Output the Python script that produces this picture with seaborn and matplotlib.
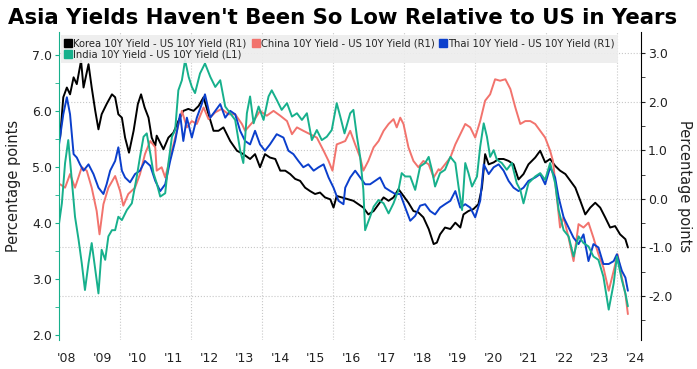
import numpy as np
import pandas as pd
import seaborn as sns
import matplotlib.pyplot as plt
from matplotlib.lines import Line2D

# Spreads (x = decimal year)
korea_t = [2008.31, 2008.40, 2008.50, 2008.59, 2008.69, 2008.78, 2008.90, 2008.97, 2009.11, 2009.20,
           2009.30, 2009.39, 2009.48, 2009.62, 2009.77, 2009.86, 2009.95, 2010.05, 2010.14, 2010.25,
           2010.38, 2010.50, 2010.59, 2010.69, 2010.80, 2010.89, 2010.99,
           2011.03, 2011.22, 2011.36, 2011.50, 2011.64, 2011.78, 2011.92, 2012.07, 2012.21, 2012.35,
           2012.49, 2012.63, 2012.77, 2012.91, 2013.10, 2013.29, 2013.47,
           2013.66, 2013.80, 2013.94, 2014.08, 2014.22, 2014.37, 2014.51, 2014.65, 2014.79, 2014.93,
           2015.07, 2015.21, 2015.35, 2015.49, 2015.63, 2015.77, 2015.92, 2016.01, 2016.10, 2016.24,
           2016.43, 2016.57, 2016.71, 2016.85, 2016.99, 2017.14, 2017.28, 2017.42, 2017.56, 2017.70,
           2017.84, 2017.98, 2018.12, 2018.26, 2018.40, 2018.54, 2018.69, 2018.83, 2018.92,
           2019.01, 2019.15, 2019.30, 2019.44, 2019.58, 2019.67, 2019.81, 2019.95, 2020.09, 2020.19,
           2020.28, 2020.38, 2020.52, 2020.66, 2020.80, 2020.94, 2021.08, 2021.22, 2021.36, 2021.50,
           2021.69, 2021.83, 2021.97, 2022.11, 2022.25, 2022.39, 2022.54, 2022.68, 2022.82, 2022.96,
           2023.10, 2023.24, 2023.38, 2023.52, 2023.66, 2023.80, 2023.94, 2024.08, 2024.23, 2024.30]
korea_v = [1.26, 2.09, 2.29, 2.15, 2.50, 2.36, 2.84, 2.29, 2.77, 2.29,
           1.81, 1.43, 1.74, 1.95, 2.15, 2.09, 1.74, 1.67, 1.26, 0.95,
           1.40, 1.95, 2.15, 1.88, 1.67, 1.26, 1.09,
           1.30, 1.02, 1.26, 1.36, 1.60, 1.81, 1.85, 1.81, 1.91, 2.09,
           1.74, 1.40, 1.40, 1.47, 1.19, 0.99, 0.92,
           0.82, 0.92, 0.65, 0.92, 0.85, 0.82, 0.58, 0.58, 0.51, 0.41,
           0.37, 0.23, 0.16, 0.10, 0.13, 0.03, -0.01, -0.18, 0.06, 0.03,
           -0.01, -0.04, -0.11, -0.18, -0.32, -0.25, -0.11, 0.03, -0.04, 0.03,
           0.20, 0.06, -0.08, -0.25, -0.28, -0.38, -0.62, -0.93, -0.90,
           -0.73, -0.59, -0.62, -0.49, -0.59, -0.32, -0.25, -0.21, -0.11, 0.23,
           0.92, 0.71, 0.75, 0.82, 0.82, 0.78, 0.71, 0.40, 0.51, 0.71,
           0.85, 0.99, 0.75, 0.82, 0.68, 0.58, 0.51, 0.37, 0.23, -0.04,
           -0.32, -0.18, -0.08, -0.18, -0.38, -0.59, -0.56, -0.73, -0.83, -1.00]

china_t = [2008.31, 2008.45, 2008.59, 2008.73, 2008.92, 2009.06, 2009.20, 2009.34, 2009.42, 2009.53,
           2009.67, 2009.86, 2010.00, 2010.09, 2010.23, 2010.42, 2010.56, 2010.70, 2010.85, 2010.99,
           2011.03, 2011.17, 2011.27, 2011.41, 2011.60, 2011.74, 2011.88, 2012.02, 2012.16, 2012.35,
           2012.49, 2012.68, 2012.86, 2013.05, 2013.24, 2013.43,
           2013.52, 2013.76, 2013.94, 2014.13, 2014.32, 2014.51, 2014.70, 2014.84, 2014.98, 2015.16,
           2015.35, 2015.54, 2015.73, 2015.87, 2015.98, 2016.10, 2016.24,
           2016.34, 2016.48, 2016.62, 2016.76, 2016.85, 2016.99, 2017.14, 2017.28, 2017.42, 2017.56,
           2017.70, 2017.79, 2017.89, 2017.98, 2018.12, 2018.26, 2018.40, 2018.54, 2018.69, 2018.83,
           2018.97,
           2019.01, 2019.15, 2019.30, 2019.44, 2019.58, 2019.72, 2019.86, 2020.00, 2020.14, 2020.28,
           2020.42, 2020.56, 2020.70, 2020.85, 2020.99, 2021.13, 2021.27, 2021.41,
           2021.55, 2021.69, 2021.83, 2021.97, 2022.11, 2022.19, 2022.28, 2022.39, 2022.49, 2022.63,
           2022.77, 2022.91, 2023.05, 2023.19, 2023.33, 2023.47, 2023.61, 2023.76, 2023.90, 2024.01,
           2024.13, 2024.23, 2024.30]
china_v = [0.30, 0.23, 0.51, 0.23, 0.65, 0.58, 0.23, -0.25, -0.73, -0.11,
           0.23, 0.47, 0.16, -0.14, 0.10, 0.23, 0.51, 0.92, 1.19, 1.06,
           0.58, 0.65, 0.44, 0.85, 1.40, 1.81, 1.47, 1.60, 1.54, 1.88,
           1.64, 1.78, 1.85, 1.74, 1.74, 1.54,
           1.40, 1.60, 1.81, 1.71, 1.81, 1.71, 1.60, 1.33, 1.47, 1.40,
           1.33, 1.26, 0.99, 0.78, 0.58, 1.12, 1.16,
           1.19, 1.40, 1.12, 0.85, 0.58, 0.78, 1.06, 1.19, 1.40, 1.54,
           1.64, 1.47, 1.67, 1.54, 1.06, 0.78, 0.65, 0.78, 0.71, 0.44,
           0.61,
           0.58, 0.71, 0.85, 1.12, 1.33, 1.54, 1.47, 1.26, 1.60, 2.02,
           2.15, 2.46, 2.43, 2.46, 2.26, 1.88, 1.54, 1.60,
           1.60, 1.54, 1.40, 1.26, 0.99, 0.78, 0.16, -0.59, -0.38, -0.80,
           -1.28, -0.52, -0.59, -0.49, -0.80, -1.14, -1.41, -1.89, -1.48, -1.14,
           -1.62, -1.96, -2.37]

thai_t = [2008.28, 2008.40, 2008.50, 2008.59, 2008.69, 2008.78, 2008.87, 2008.97, 2009.11, 2009.25,
          2009.39, 2009.53, 2009.62, 2009.72, 2009.86, 2009.95, 2010.05, 2010.14, 2010.28, 2010.42,
          2010.56, 2010.70, 2010.85,
          2010.99, 2011.13, 2011.27, 2011.41, 2011.55, 2011.69, 2011.78, 2011.88, 2012.02, 2012.16,
          2012.30, 2012.39, 2012.54, 2012.68, 2012.82, 2012.96, 2013.10, 2013.24, 2013.38, 2013.52,
          2013.66, 2013.80, 2013.94, 2014.08, 2014.22, 2014.41, 2014.60, 2014.74, 2014.88, 2015.02,
          2015.16, 2015.30, 2015.45, 2015.59, 2015.73, 2015.87, 2016.01, 2016.15, 2016.29,
          2016.34, 2016.48, 2016.62, 2016.76, 2016.90, 2017.04, 2017.18, 2017.32, 2017.46, 2017.61,
          2017.75, 2017.89, 2018.03, 2018.17, 2018.31, 2018.45, 2018.59, 2018.73, 2018.87,
          2019.01, 2019.15, 2019.30, 2019.44, 2019.58, 2019.72, 2019.86, 2020.00, 2020.14, 2020.24,
          2020.38, 2020.52, 2020.66, 2020.80, 2020.94, 2021.08, 2021.22, 2021.36, 2021.50,
          2021.69, 2021.83, 2021.97, 2022.11, 2022.25, 2022.35, 2022.49, 2022.63, 2022.77, 2022.91,
          2023.05, 2023.19, 2023.33, 2023.47, 2023.61, 2023.76, 2023.90, 2023.99, 2024.13, 2024.23,
          2024.30]
thai_v = [1.12, 1.74, 2.09, 1.74, 0.92, 0.85, 0.71, 0.58, 0.71, 0.51,
          0.23, 0.10, 0.30, 0.58, 0.78, 1.06, 0.58, 0.44, 0.34, 0.51,
          0.58, 0.78, 0.68,
          0.37, 0.16, 0.30, 0.78, 1.19, 1.74, 1.19, 1.67, 1.26, 1.67,
          1.95, 2.15, 1.67, 1.81, 1.95, 1.67, 1.81, 1.74, 1.40, 1.19,
          1.12, 1.40, 1.12, 0.99, 1.12, 1.33, 1.26, 0.99, 0.92, 0.78,
          0.65, 0.71, 0.58, 0.65, 0.71, 0.44, 0.23, -0.04, -0.11,
          0.23, 0.44, 0.58, 0.44, 0.30, 0.30, 0.37, 0.44, 0.23, 0.16,
          0.10, 0.10, -0.18, -0.45, -0.35, -0.14, -0.11, -0.25, -0.32,
          -0.18, -0.11, -0.04, 0.16, -0.18, -0.11, -0.18, -0.38, -0.04, 0.71,
          0.51, 0.65, 0.71, 0.58, 0.37, 0.23, 0.16, 0.23, 0.37,
          0.44, 0.51, 0.30, 0.65, 0.44, 0.03, -0.38, -0.59, -0.80, -0.93,
          -0.73, -1.28, -0.93, -1.00, -1.34, -1.34, -1.28, -1.14, -1.48, -1.62,
          -1.89]

india_t = [2008.28, 2008.36, 2008.45, 2008.54, 2008.64, 2008.73, 2008.83, 2008.92, 2009.01, 2009.11,
           2009.20, 2009.30, 2009.39, 2009.48, 2009.58, 2009.67, 2009.77, 2009.86, 2009.95, 2010.05,
           2010.19, 2010.33, 2010.47, 2010.56, 2010.66, 2010.75, 2010.85,
           2010.94, 2011.03, 2011.13, 2011.27, 2011.36, 2011.46, 2011.55, 2011.64, 2011.74, 2011.83,
           2011.93, 2012.02, 2012.11, 2012.25, 2012.39, 2012.54, 2012.68, 2012.82, 2012.96, 2013.10,
           2013.24, 2013.38, 2013.47,
           2013.57, 2013.66, 2013.76, 2013.90, 2014.04, 2014.18, 2014.27, 2014.41, 2014.55, 2014.70,
           2014.84, 2014.98, 2015.12, 2015.26, 2015.40, 2015.54, 2015.68, 2015.82, 2015.96, 2016.10,
           2016.20, 2016.32,
           2016.48, 2016.57, 2016.67, 2016.76, 2016.85, 2016.90, 2017.04, 2017.14, 2017.28, 2017.42,
           2017.56, 2017.70, 2017.84, 2017.93, 2018.03, 2018.17, 2018.31, 2018.45, 2018.59, 2018.69,
           2018.78, 2018.87,
           2019.01, 2019.15, 2019.30, 2019.44, 2019.53, 2019.63, 2019.72, 2019.81, 2019.91, 2020.05,
           2020.14, 2020.24, 2020.33, 2020.42, 2020.52, 2020.61, 2020.75, 2020.89, 2021.03, 2021.17,
           2021.27, 2021.36, 2021.50,
           2021.69, 2021.83, 2021.97, 2022.11, 2022.25, 2022.35, 2022.49, 2022.63, 2022.77, 2022.91,
           2023.05, 2023.19, 2023.33, 2023.47, 2023.61, 2023.76, 2023.90, 2023.99, 2024.13, 2024.23,
           2024.30]
india_v = [3.99, 4.35, 5.07, 5.48, 4.77, 4.11, 3.70, 3.28, 2.80, 3.28,
           3.64, 3.16, 2.74, 3.52, 3.34, 3.76, 3.87, 3.87, 4.11, 4.05,
           4.23, 4.35, 4.83, 5.18, 5.54, 5.60, 5.24,
           4.89, 4.71, 4.47, 4.53, 5.07, 5.54, 5.66, 6.37, 6.55, 6.91,
           6.61, 6.43, 6.32, 6.67, 6.85, 6.61, 6.43, 6.55, 6.08, 5.96,
           5.84, 5.30, 5.07,
           5.96, 6.26, 5.78, 6.08, 5.84, 6.26, 6.37, 6.20, 6.02, 6.14,
           5.90, 5.96, 5.84, 5.96, 5.48, 5.66, 5.48, 5.54, 5.66, 6.14,
           5.90, 5.60,
           5.96, 6.02, 5.54, 5.18, 4.59, 3.87, 4.11, 4.29, 4.41, 4.35,
           4.17, 4.35, 4.59, 4.89, 4.83, 4.83, 4.59, 5.01, 5.07, 5.18,
           4.95, 4.65,
           4.89, 4.95, 5.18, 5.07, 4.65, 4.23, 5.07, 4.89, 4.65, 4.83,
           5.36, 5.78, 5.54, 5.18, 5.30, 5.13, 5.07, 4.95, 5.07, 4.71,
           4.59, 4.35, 4.71,
           4.83, 4.89, 4.77, 5.07, 4.71, 4.23, 3.87, 3.76, 3.40, 3.76,
           3.64, 3.58, 3.40, 3.34, 3.04, 2.45, 2.92, 3.40, 2.98, 2.74,
           2.51]

year_labels = ["'08", "'09", "'10", "'11", "'12", "'13", "'14", "'15", "'16",
               "'17", "'18", "'19", "'20", "'21", "'22", "'23", "'24"]
label_pos = [2008.5 + i for i in range(len(year_labels))]
grid_years = [2010, 2012, 2014, 2016, 2018, 2020, 2022, 2024]

names = ["Korea 10Y Yield - US 10Y Yield (R1)", "China 10Y Yield - US 10Y Yield (R1)",
         "Thai 10Y Yield - US 10Y Yield (R1)", "India 10Y Yield - US 10Y Yield (L1)"]
colors = ["#000000", "#f2736d", "#0b3fcc", "#17b08c"]

sns.set_style("white")
plt.rcParams['font.family'] = ['DejaVu Sans']

fig = plt.figure(figsize=(6.97, 3.69), dpi=100)
ax = fig.add_axes([0.0847, 0.079, 0.835, 0.834])   # right axis (R1)
ax2 = ax.twinx()                                       # left axis (L1, India)
ax.yaxis.tick_right()
ax.yaxis.set_label_position("right")
ax2.yaxis.tick_left()
ax2.yaxis.set_label_position("left")

# R1 series
for t, v, c in [(korea_t, korea_v, colors[0]), (china_t, china_v, colors[1]), (thai_t, thai_v, colors[2])]:
    sns.lineplot(x=t, y=v, ax=ax, color=c, linewidth=1.4)
# L1 series
sns.lineplot(x=india_t, y=india_v, ax=ax2, color=colors[3], linewidth=1.4)

ax.set_xlim(2008.28, 2024.67)
ax.set_ylim(-2.9, 3.43)
ax2.set_ylim(1.91, 7.41)

ax.set_yticks(np.arange(-2, 3.5, 1.0))
ax.set_yticks(np.arange(-2.5, 3.5, 0.5), minor=True)
ax.set_yticklabels(["%.1f" % v for v in np.arange(-2, 3.5, 1.0)])
ax2.set_yticks(np.arange(2, 7.5, 1.0))
ax2.set_yticks(np.arange(2, 7.5, 0.5), minor=True)
ax2.set_yticklabels(["%.1f" % v for v in np.arange(2, 7.5, 1.0)])

ax.set_xticks(label_pos)
ax.set_xticklabels(year_labels)
ax.set_xticks(grid_years, minor=True)
ax.tick_params(axis='x', which='both', length=0, pad=9, labelsize=9, colors='#222222')

ax.tick_params(axis='y', which='major', direction='out', length=3, labelsize=9, colors='#222222', pad=2)
ax.tick_params(axis='y', which='minor', direction='out', length=3, colors='#222222')
ax2.tick_params(axis='y', which='major', direction='out', length=3, labelsize=9, labelcolor='#222222',
                color=colors[3], pad=2)
ax2.tick_params(axis='y', which='minor', direction='out', length=3, color=colors[3])

ax.grid(True, axis='y', which='major', linestyle=':', color='#c8c8c8', linewidth=0.8)
ax.grid(True, axis='x', which='minor', linestyle=':', color='#c8c8c8', linewidth=0.8)

for a in (ax, ax2):
    a.spines['top'].set_visible(False)
    a.spines['bottom'].set_visible(False)
ax.spines['left'].set_visible(False)
ax.spines['right'].set_color('#000000')
ax2.spines['right'].set_visible(False)
ax2.spines['left'].set_color(colors[3])

ax.set_ylabel("Percentage points", fontsize=10.5, rotation=270, labelpad=14, color='#222222')
ax2.set_ylabel("Percentage points", fontsize=10.5, labelpad=8, color='#222222')
ax.set_xlabel("")

# Legend: Korea/India in first column, China, Thai next
order = [0, 3, 1, 2]
handles = [Line2D([], [], marker='s', linestyle='none', markersize=6, color=colors[i]) for i in order]
leg = ax2.legend(handles, [names[i] for i in order], ncol=3, loc='upper left',
                 bbox_to_anchor=(0.004, 0.99), frameon=True, fontsize=7.2, handletextpad=0.1,
                 handlelength=0.8, columnspacing=0.5, labelspacing=0.15, borderpad=0.3,
                 borderaxespad=0.0, fancybox=False)
leg.get_frame().set_facecolor('#ededed')
leg.get_frame().set_edgecolor('none')
leg.get_frame().set_alpha(0.9)

fig.text(0.012, 0.952, "Asia Yields Haven't Been So Low Relative to US in Years",
         fontsize=15.3, fontweight='bold', ha='left', va='center', color='black')

plt.savefig('out.png', dpi=100)
